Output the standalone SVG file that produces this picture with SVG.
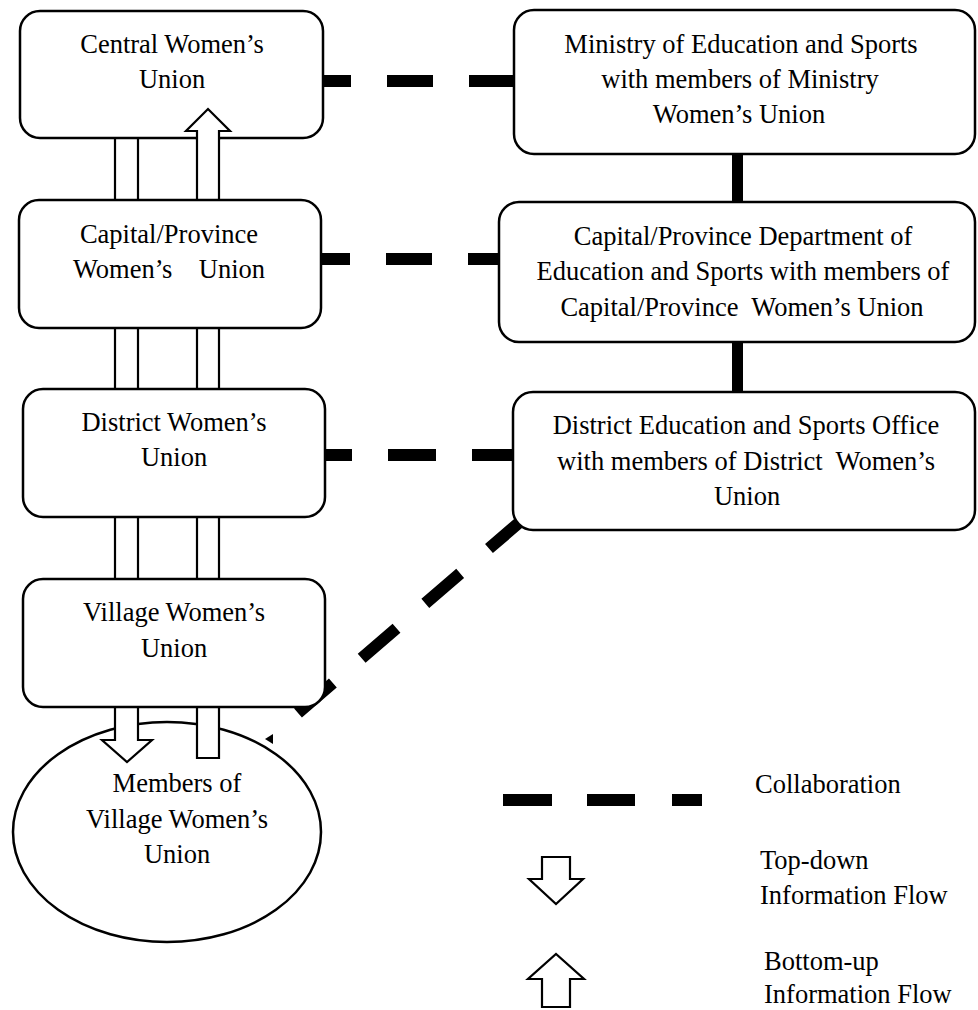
<svg xmlns="http://www.w3.org/2000/svg" width="978" height="1010" viewBox="0 0 978 1010">
<style>
.box{fill:#fff;stroke:#000;stroke-width:2.5}
.shaft{fill:#fff;stroke:#000;stroke-width:2.2}
.t{font-family:"Liberation Serif","Times New Roman",serif;font-size:26.5px;fill:#000;text-anchor:middle;white-space:pre}
.lt{font-family:"Liberation Serif","Times New Roman",serif;font-size:26.5px;fill:#000;white-space:pre}
.dash{fill:#000}
</style>
<rect width="978" height="1010" fill="#fff"/>

<g id="members">
<ellipse class="box" cx="167" cy="832" rx="154" ry="110"/>
<text class="t" x="177" y="792">Members of</text>
<text class="t" x="177" y="828">Village Women’s</text>
<text class="t" x="177" y="863">Union</text>
</g>

<g id="connectors">
<!-- top-down flow arrow -->
<path class="shaft" d="M115,130 V740 H102 L127,762 L152,740 H138 V130 Z"/>
<!-- bottom-up flow arrow -->
<path class="shaft" d="M197,758 V131 H186 L208,109 L230,131 H219 V758 Z"/>
<!-- vertical solid links right column -->
<rect class="dash" x="732" y="150" width="11" height="56"/>
<rect class="dash" x="732" y="338" width="11" height="58"/>
<!-- collaboration dashes row 1 -->
<rect class="dash" x="322" y="75" width="29" height="12"/>
<rect class="dash" x="387" y="75" width="46" height="12"/>
<rect class="dash" x="469" y="75" width="46" height="12"/>
<!-- row 2 -->
<rect class="dash" x="320" y="253" width="30" height="12"/>
<rect class="dash" x="386" y="253" width="46" height="12"/>
<rect class="dash" x="468" y="253" width="32" height="12"/>
<!-- row 3 -->
<rect class="dash" x="324" y="449" width="28" height="12"/>
<rect class="dash" x="388" y="449" width="48" height="12"/>
<rect class="dash" x="472" y="449" width="42" height="12"/>
<!-- diagonal -->
<line x1="298" y1="713" x2="521" y2="521" stroke="#000" stroke-width="12" stroke-dasharray="46 38"/>
<polygon points="265,739 273,734 273,744" fill="#000"/>
</g>

<g id="central">
<rect class="box" x="20" y="11" width="303" height="127" rx="20"/>
<text class="t" x="172" y="53">Central Women’s</text>
<text class="t" x="172" y="88">Union</text>
</g>
<g id="capital-wu">
<rect class="box" x="19" y="200" width="302" height="128" rx="20"/>
<text class="t" x="169" y="243">Capital/Province</text>
<text class="t" x="169" y="278">Women’s    Union</text>
</g>
<g id="district-wu">
<rect class="box" x="23" y="389" width="302" height="128" rx="20"/>
<text class="t" x="174" y="431">District Women’s</text>
<text class="t" x="174" y="466">Union</text>
</g>
<g id="village-wu">
<rect class="box" x="23" y="579" width="302" height="128" rx="20"/>
<text class="t" x="174" y="621">Village Women’s</text>
<text class="t" x="174" y="657">Union</text>
</g>

<g id="up-head">
<path d="M197,140 V131 H186 L208,109 L230,131 H219 V140" fill="#fff" stroke="#000" stroke-width="2.2"/>
</g>

<g id="ministry">
<rect class="box" x="514" y="10" width="461" height="144" rx="20"/>
<text class="t" x="741" y="53">Ministry of Education and Sports</text>
<text class="t" x="740" y="88">with members of Ministry</text>
<text class="t" x="739" y="123">Women’s Union</text>
</g>
<g id="capital-dept">
<rect class="box" x="499" y="202" width="476" height="140" rx="20"/>
<text class="t" x="743" y="245">Capital/Province Department of</text>
<text class="t" x="743" y="280">Education and Sports with members of</text>
<text class="t" x="742" y="316">Capital/Province  Women’s Union</text>
</g>
<g id="district-office">
<rect class="box" x="513" y="392" width="462" height="138" rx="20"/>
<text class="t" x="746" y="434">District Education and Sports Office</text>
<text class="t" x="746" y="470">with members of District  Women’s</text>
<text class="t" x="747" y="505">Union</text>
</g>

<g id="legend">
<rect class="dash" x="503" y="794" width="49" height="12"/>
<rect class="dash" x="587" y="794" width="48" height="12"/>
<rect class="dash" x="672" y="794" width="30" height="12"/>
<text class="lt" x="755" y="793">Collaboration</text>
<path class="shaft" d="M542,857 V879 H529 L556,904 L583,879 H570 V857 Z"/>
<text class="lt" x="760" y="869">Top-down</text>
<text class="lt" x="760" y="904">Information Flow</text>
<path class="shaft" d="M542,1007 V979 H528 L556,954 L584,979 H570 V1007 Z"/>
<text class="lt" x="764" y="970">Bottom-up</text>
<text class="lt" x="764" y="1003">Information Flow</text>
</g>
</svg>
